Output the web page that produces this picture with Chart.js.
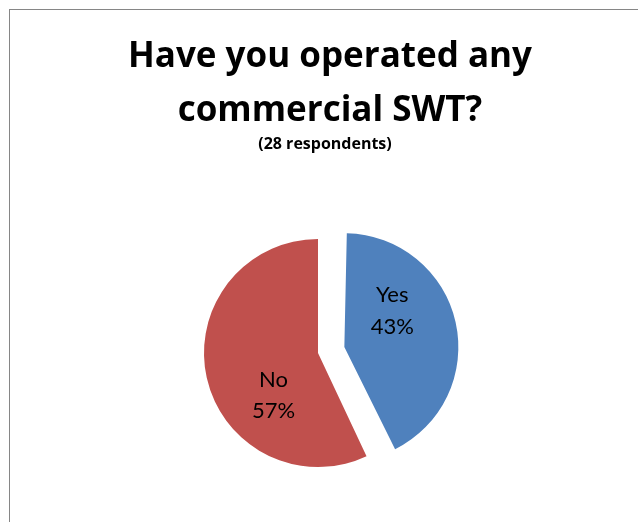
<!DOCTYPE html>
<html>
<head>
<meta charset="utf-8">
<script src="https://cdn.jsdelivr.net/npm/chart.js@4/dist/chart.umd.min.js"></script>
<style>
  html, body { margin: 0; padding: 0; background: #ffffff; overflow: hidden; }
  #wrap { position: relative; width: 638px; height: 522px; }
  #frame {
    position: absolute; left: 9px; top: 9px; width: 700px; height: 600px;
    border-top: 1px solid #868686; border-left: 1px solid #868686;
  }
  #chart { position: absolute; left: 0; top: 0; }
  .title {
    position: absolute; left: 9px; width: 642px; text-align: center;
    font-family: "Open Sans", Lato, sans-serif; font-weight: bold; color: #000;
    white-space: nowrap;
  }
  #title { top: 26.5px; font-size: 35px; line-height: 54px; }
  #subtitle { left: 4px; top: 130.5px; font-size: 16px; line-height: 24px; }
</style>
</head>
<body>
<div id="wrap">
  <div id="frame"></div>
  <canvas id="chart" width="638" height="522"></canvas>
  <div id="title" class="title"></div>
  <div id="subtitle" class="title"></div>
</div>
<script>
// Survey answers and their shares (percent of respondents)
const categories = ['Yes', 'No'];
const shares = [43, 57];
const respondents = 28;
const titleLines = ['Have you operated any', 'commercial SWT?'];

const sliceColors = ['#4F81BD', '#C0504D'];

document.getElementById('title').innerHTML = titleLines.join('<br>');
document.getElementById('subtitle').textContent = '(' + respondents + ' respondents)';

// Keeps an exploded slice at the same radius as the others
// (Chart.js grows offset arcs slightly when it draws them).
const keepRadius = {
  id: 'keepRadius',
  beforeDatasetsDraw(chart) {
    const meta = chart.getDatasetMeta(0);
    const R = meta.controller.outerRadius;
    meta.data.forEach(arc => {
      const off = (arc.options.offset || 0) / 4;
      const fix = 1 - Math.sin(Math.min(Math.PI, arc.circumference));
      arc.outerRadius = R - off * fix;
    });
  }
};

// Category name and percentage written inside each slice
const sliceLabels = {
  id: 'sliceLabels',
  afterDatasetsDraw(chart, args, opts) {
    const ctx = chart.ctx;
    const meta = chart.getDatasetMeta(0);
    const R = meta.controller.outerRadius;
    ctx.save();
    ctx.font = opts.font;
    ctx.fillStyle = opts.color;
    ctx.textAlign = 'center';
    ctx.textBaseline = 'alphabetic';
    meta.data.forEach((arc, i) => {
      const mid = (arc.startAngle + arc.endAngle) / 2;
      const shift = (arc.options.offset || 0) / 4;
      const cx = arc.x + Math.cos(mid) * shift;
      const cy = arc.y + Math.sin(mid) * shift;
      const a = opts.anchors[i];
      const x = cx + a.dx * R;
      const y = cy + a.dy * R;
      ctx.fillText(chart.data.labels[i], x, y);
      ctx.fillText(chart.data.datasets[0].data[i] + '%', x, y + opts.lineGap);
    });
    ctx.restore();
  }
};

new Chart(document.getElementById('chart'), {
  type: 'pie',
  data: {
    labels: categories,
    datasets: [{
      data: shares,
      backgroundColor: sliceColors,
      borderWidth: 0,
      offset: [108, 0],
      hoverOffset: 0
    }]
  },
  options: {
    responsive: false,
    animation: false,
    events: [],
    radius: 114,
    layout: { padding: { top: 184, left: 0, right: 2, bottom: 0 } },
    plugins: {
      legend: { display: false },
      tooltip: { enabled: false },
      title: { display: false },
      sliceLabels: {
        font: '22px Lato, "Open Sans", sans-serif',
        color: '#000000',
        lineGap: 31.5,
        anchors: [{ dx: 0.42, dy: -0.395 }, { dx: -0.39, dy: 0.298 }]
      }
    }
  },
  plugins: [keepRadius, sliceLabels]
});
</script>
</body>
</html>
